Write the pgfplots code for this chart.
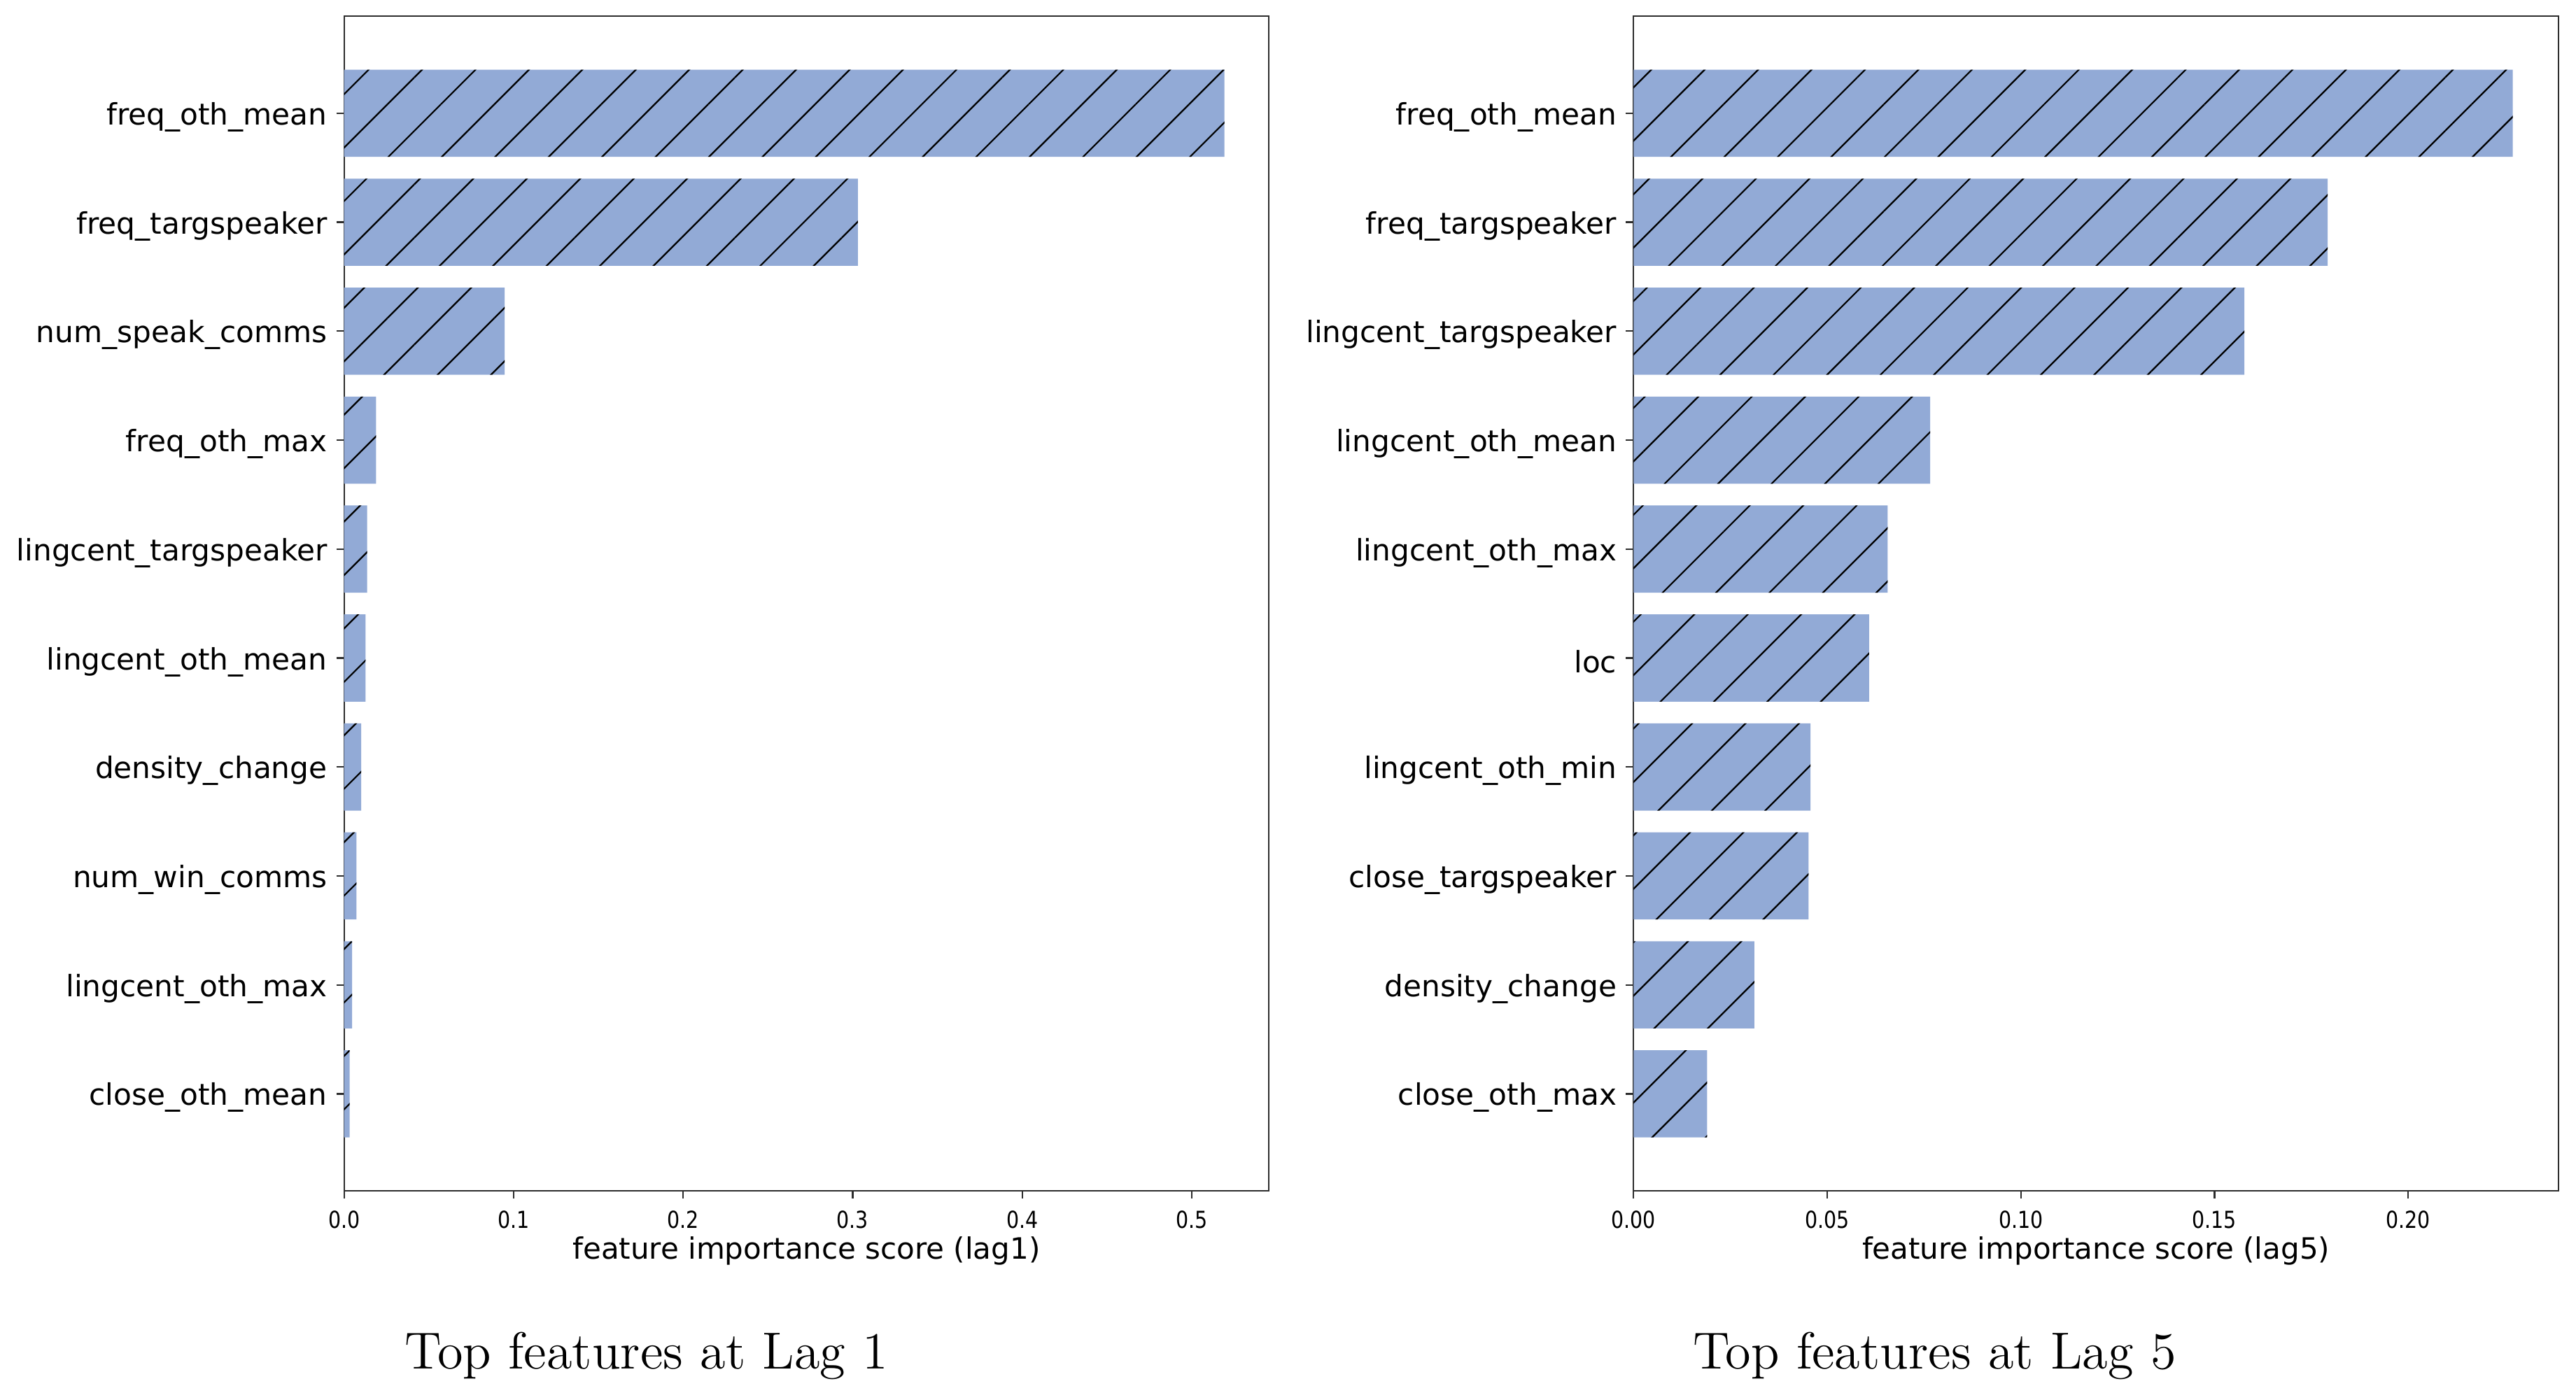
\documentclass[border=0pt]{standalone}
\usepackage{fontspec}
\newfontfamily\dejavu{DejaVu Sans}
\newfontfamily\tickfont[FakeStretch=0.85]{DejaVu Sans}
\usepackage{pgfplots}
\pgfplotsset{compat=1.18}
\usetikzlibrary{patterns.meta}
\definecolor{barblue}{RGB}{146,170,214}
\definecolor{framegray}{RGB}{45,45,45}

\pgfplotsset{
  fi/.style={
    scale only axis, width=264.3pt, height=335.74pt, anchor=south west,
    xmin=0, ymin=-0.89, ymax=9.89, y dir=reverse,
    axis line style={framegray, line width=0.45pt},
    tick align=outside, major tick length=2.2pt,
    every tick/.style={framegray, line width=0.45pt},
    xtick pos=bottom, ytick pos=left,
    ytick={0,...,9},
    yticklabel style={font=\dejavu\fontsize{8.45}{10}\selectfont, text=black, xshift=0.9pt, yshift=-1.1pt},
    xticklabel style={font=\tickfont\fontsize{6.7}{8}\selectfont, text=black},
    xlabel style={font=\dejavu\fontsize{8.4}{10}\selectfont, at={(axis description cs:0.5,0)}, anchor=base, yshift=-19.6pt},
  },
  hb/.style={xbar, bar width=0.8, bar shift=0pt, draw=none, fill=barblue,
    postaction={pattern={Lines[angle=45,distance=10.8pt,line width=0.45pt]}, pattern color=black}},
}

\begin{document}
\begin{tikzpicture}
\useasboundingbox (0,0) rectangle (736.2pt,400.2pt);

\begin{axis}[fi, at={(98.34pt,59.8pt)}, xmax=0.5455,
  xtick={0,0.1,0.2,0.3,0.4,0.5},
  xticklabels={0.0,0.1,0.2,0.3,0.4,0.5},
  yticklabels={freq\_oth\_mean,freq\_targspeaker,num\_speak\_comms,freq\_oth\_max,lingcent\_targspeaker,lingcent\_oth\_mean,density\_change,num\_win\_comms,lingcent\_oth\_max,close\_oth\_mean},
  xlabel={feature importance score (lag1)}]
\addplot[hb] coordinates {
 (0.5192,0) (0.3031,1) (0.0947,2) (0.0189,3) (0.0136,4)
 (0.0127,5) (0.0101,6) (0.0073,7) (0.0047,8) (0.0033,9)};
\end{axis}

\begin{axis}[fi, at={(466.86pt,59.8pt)}, xmax=0.2388,
  xtick={0,0.05,0.1,0.15,0.2},
  xticklabels={0.00,0.05,0.10,0.15,0.20},
  yticklabels={freq\_oth\_mean,freq\_targspeaker,lingcent\_targspeaker,lingcent\_oth\_mean,lingcent\_oth\_max,loc,lingcent\_oth\_min,close\_targspeaker,density\_change,close\_oth\_max},
  xlabel={feature importance score (lag5)}]
\addplot[hb] coordinates {
 (0.2270,0) (0.1792,1) (0.1577,2) (0.0766,3) (0.0656,4)
 (0.0608,5) (0.0457,6) (0.0452,7) (0.0312,8) (0.0190,9)};
\end{axis}

\node[font=\fontsize{14.9}{17}\selectfont, anchor=base] at (184.8pt,8.9pt) {Top features at Lag 1};
\node[font=\fontsize{14.9}{17}\selectfont, anchor=base] at (552.9pt,8.9pt) {Top features at Lag 5};
\end{tikzpicture}
\end{document}
